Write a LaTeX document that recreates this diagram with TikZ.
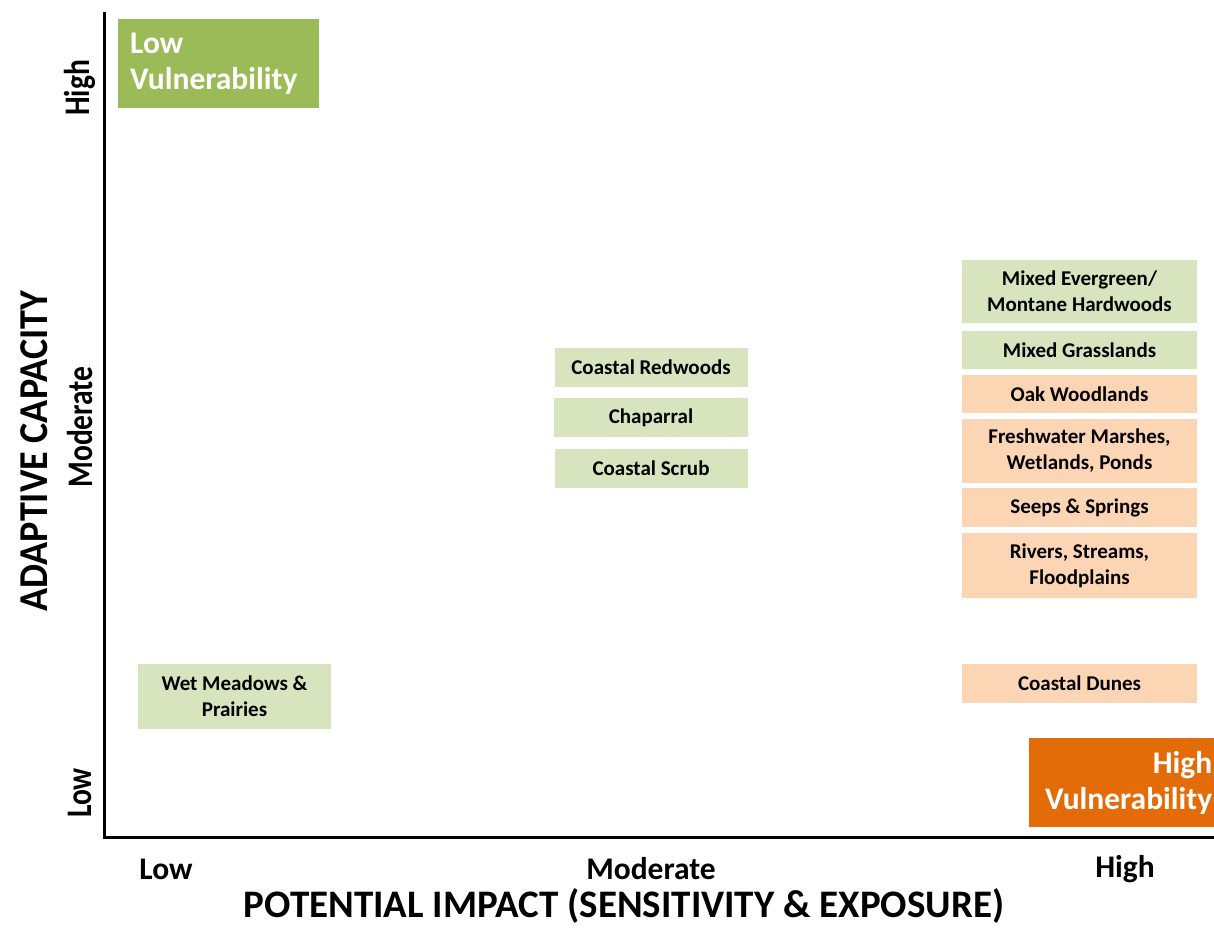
\documentclass[tikz,border=0pt]{standalone}
\usepackage{fontspec}
\setmainfont{Carlito}
\usepackage{xcolor}
\usetikzlibrary{positioning}
\usetikzlibrary{math}

\definecolor{lowgreen}{HTML}{9BBB59}
\definecolor{palegreen}{HTML}{D7E4BD}
\definecolor{highorange}{HTML}{E36C09}
\definecolor{palepeach}{HTML}{FCD5B5}

\tikzset{
  habitat/.style={rectangle, inner sep=0pt, align=center, font=\fontsize{21}{26}\selectfont\bfseries,
    minimum width=#1},
  greenbox/.style={habitat=235pt, fill=palegreen},
  peachbox/.style={habitat=235pt, fill=palepeach},
  tick/.style={font=\fontsize{31.5}{34}\selectfont\bfseries},
  vtick/.style={font=\fontsize{36}{40}\selectfont\bfseries, rotate=90, xscale=0.82},
  vulbox/.style={minimum height=89pt, text=white, anchor=north west, inner ysep=0pt,
    font=\fontsize{31.5}{36}\selectfont\bfseries},
}

\begin{document}
\begin{tikzpicture}[x=1pt,y=-1pt]

  \tikzmath{
    \ox   = 104; % x of the vertical axis
    \oy   = 837; % y of the horizontal axis
    \colA = 651; % centre of the middle column
    \colB = 1079.5; % centre of the right column
  }

  \useasboundingbox (0,0) rectangle (1214,928);

  % axes
  \coordinate (top) at (\ox, 12);
  \coordinate (O) at (\ox, \oy);
  \coordinate (right) at (1214, \oy);
  \draw[line width=3pt] (top) -- (O) -- (right);

  % corner boxes
  \node[vulbox, fill=lowgreen, minimum width=201pt, align=left, text width=177pt, inner xsep=12pt]
    (lowvul) at (118,19) {Low\\Vulnerability};
  \node[vulbox, fill=highorange, minimum width=185pt, align=right, text width=181pt, inner xsep=2pt]
    (highvul) at (1029,738) {High\\Vulnerability};

  % left column
  \node[habitat=193pt, fill=palegreen, minimum height=65pt] (wetmeadows) at (234.5,696.5)
    {Wet Meadows \&\\Prairies};

  % middle column
  \node[habitat=193pt, fill=palegreen, minimum height=39pt] (redwoods) at (\colA,367.5) {Coastal Redwoods};
  \node[habitat=194pt, fill=palegreen, minimum height=39pt] (chaparral) at (\colA,417.5) {Chaparral};
  \node[habitat=193pt, fill=palegreen, minimum height=39pt] (scrub) at (\colA,468.5) {Coastal Scrub};

  % right column
  \node[greenbox, minimum height=63pt] (evergreen) at (\colB,291.5) {Mixed Evergreen/\\Montane Hardwoods};
  \node[greenbox, minimum height=38pt] (grasslands) at (\colB,350) {Mixed Grasslands};
  \node[peachbox, minimum height=38pt] (oak) at (\colB,394) {Oak Woodlands};
  \node[peachbox, minimum height=64pt] (marshes) at (\colB,451) {Freshwater Marshes,\\Wetlands, Ponds};
  \node[peachbox, minimum height=39pt] (seeps) at (\colB,507.5) {Seeps \& Springs};
  \node[peachbox, minimum height=65pt] (rivers) at (\colB,565.5) {Rivers, Streams,\\Floodplains};
  \node[peachbox, minimum height=39pt] (dunes) at (\colB,683.5) {Coastal Dunes};

  % tick labels
  \node[tick] (xlow) at (166,869) {Low};
  \node[tick] (xmod) at (651,869) {Moderate};
  \node[tick] (xhigh) at (1125,869) {High};
  \node[vtick] (yhigh) at (80,88) {High};
  \node[vtick] (ymod) at (80,427) {Moderate};
  \node[vtick] (ylow) at (80,793) {Low};

  % axis titles
  \node[font=\fontsize{39}{42}\selectfont\bfseries] (xtitle) at (624,906)
    {POTENTIAL IMPACT (SENSITIVITY \& EXPOSURE)};
  \node[font=\fontsize{41}{44}\selectfont\bfseries, rotate=90, xscale=0.93] (ytitle) at (34,451)
    {ADAPTIVE CAPACITY};

\end{tikzpicture}
\end{document}
